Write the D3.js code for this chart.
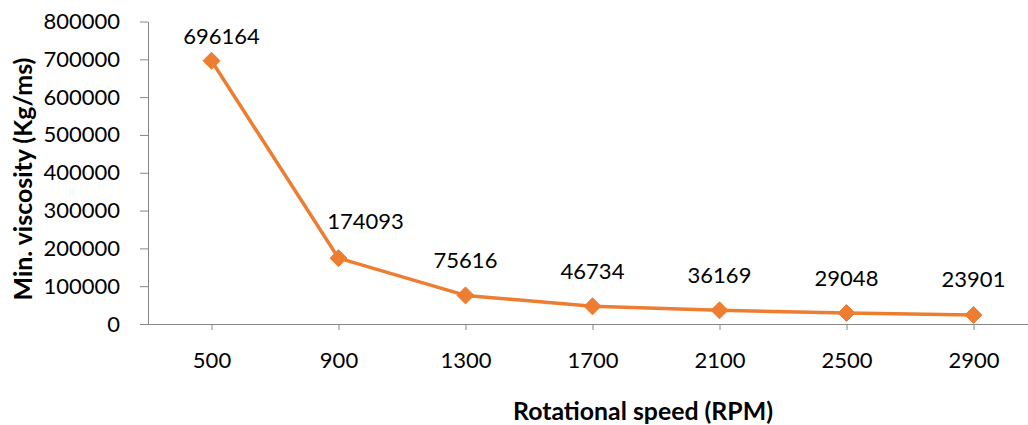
<!DOCTYPE html>
<html>
<head>
<meta charset="utf-8">
<script src="https://cdn.jsdelivr.net/npm/d3@7"></script>
<style>
  html, body { margin: 0; padding: 0; background: #fff; }
  svg { display: block; font-family: Lato, "Open Sans", sans-serif; }
</style>
</head>
<body>
<svg id="chart" width="1028" height="425"></svg>
<script>
// Minimum viscosity against rotational speed
const speeds = ["500", "900", "1300", "1700", "2100", "2500", "2900"];
const viscosity = [696164, 174093, 75616, 46734, 36169, 29048, 23901];
const yTicks = [0, 100000, 200000, 300000, 400000, 500000, 600000, 700000, 800000];
const xTitle = "Rotational speed (RPM)";
const yTitle = "Min. viscosity (Kg/ms)";

const W = 1028, H = 425;
const plot = { left: 148, right: 1037, top: 21.5, bottom: 324 };
const orange = "#ED7D31";
const axisGrey = "#868686";
const fontSize = 22;

const svg = d3.select("#chart");

const x = d3.scalePoint().domain(speeds).range([plot.left, plot.right]).padding(0.5);
const y = d3.scaleLinear().domain([0, 800000]).range([plot.bottom, plot.top]);

// y axis
const yAxis = svg.append("g")
  .attr("transform", `translate(${plot.left},0)`)
  .call(d3.axisLeft(y).tickValues(yTicks).tickFormat(d3.format("d")).tickSizeInner(8).tickSizeOuter(0).tickPadding(20));
yAxis.select(".domain").attr("stroke", axisGrey);
yAxis.selectAll(".tick line").attr("stroke", axisGrey);
yAxis.selectAll(".tick text").attr("font-size", fontSize).attr("font-family", "Lato").attr("fill", "#000");

// x axis
const xAxis = svg.append("g")
  .attr("transform", `translate(0,${plot.bottom})`)
  .call(d3.axisBottom(x).tickSizeInner(6).tickSizeOuter(0).tickPadding(22));
xAxis.select(".domain").attr("stroke", axisGrey);
xAxis.selectAll(".tick line").attr("stroke", axisGrey);
xAxis.selectAll(".tick text").attr("font-size", fontSize).attr("font-family", "Lato").attr("fill", "#000");

// axis titles, sized to their target span
function fitTitle(sel, span) {
  const len = sel.node().getComputedTextLength();
  const fs = +sel.attr("font-size");
  sel.attr("font-size", fs * span / len);
}

const xt = svg.append("text")
  .attr("x", 643).attr("y", 420)
  .attr("text-anchor", "middle")
  .attr("font-size", 20).attr("font-weight", "bold").attr("font-family", "Lato")
  .text(xTitle);
fitTitle(xt, 260);

const yt = svg.append("text")
  .attr("transform", `translate(32,${179}) rotate(-90)`)
  .attr("text-anchor", "middle")
  .attr("font-size", 20).attr("font-weight", "bold").attr("font-family", "Lato")
  .text(yTitle);
fitTitle(yt, 243);

// series line
const pts = speeds.map((s, i) => ({ s, v: viscosity[i] }));
svg.append("path")
  .datum(pts)
  .attr("fill", "none")
  .attr("stroke", orange)
  .attr("stroke-width", 3.5)
  .attr("stroke-linejoin", "round")
  .attr("d", d3.line().x(d => x(d.s)).y(d => y(d.v)));

// diamond markers
svg.append("g").selectAll("path")
  .data(pts)
  .join("path")
  .attr("transform", d => `translate(${x(d.s)},${y(d.v)})`)
  .attr("d", "M0,-8.5L8.5,0L0,8.5L-8.5,0Z")
  .attr("fill", orange)
  .attr("stroke", orange)
  .attr("stroke-width", 1);

// value labels; the first two are nudged clear of the steep segment
const nudge = [[10, 11], [27, -2]];
svg.append("g").selectAll("text")
  .data(pts)
  .join("text")
  .attr("x", (d, i) => x(d.s) + (nudge[i] ? nudge[i][0] : 0))
  .attr("y", (d, i) => y(d.v) - 27.5 + (nudge[i] ? nudge[i][1] : 0))
  .attr("text-anchor", "middle")
  .attr("font-size", fontSize)
  .attr("font-family", "Lato")
  .text(d => d.v);
</script>
</body>
</html>
